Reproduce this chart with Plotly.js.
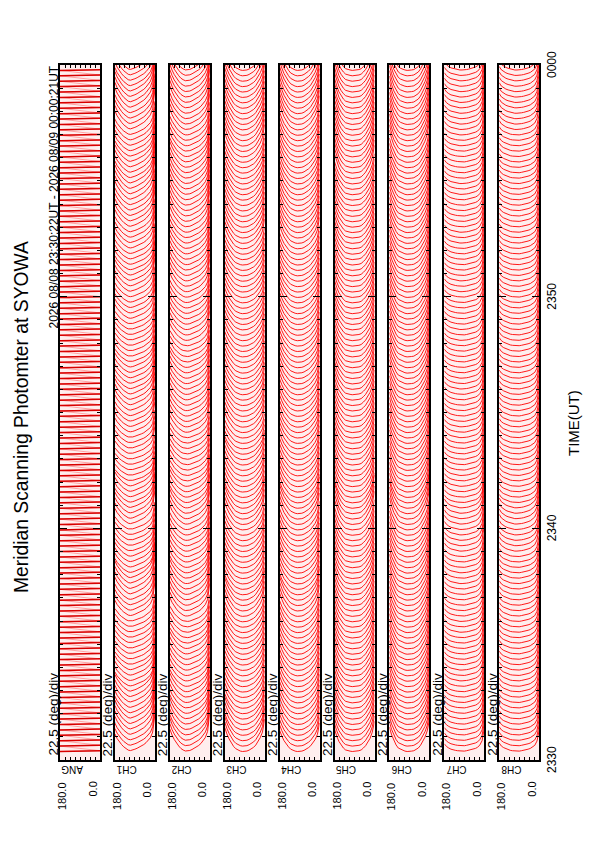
<!DOCTYPE html>
<html>
<head>
<meta charset="utf-8">
<script src="https://cdn.plot.ly/plotly-3.0.1.min.js"></script>
<style>
html,body{margin:0;padding:0;background:#fff;overflow:hidden;}
#chart{width:595px;height:842px;}
</style>
</head>
<body>
<div id="chart"></div>
<script>
// ---------------- DATA ----------------
// scan start times, seconds after 23:30:00 UT
const scanSec = [22,36,50,64,78,92,106,120,134,148,162,176,190,204,218,232,246,260,274,288,
302,316,330,344,358,372,386,400,414,428,442,456,470,484,498,512,526,540,554,568,
582,596,610,624,638,652,666,680,694,708,722,736,750,764,778,792,806,820,834,848,
862,876,890,904,918,932,946,960,974,988,1002,1016,1030,1044,1058,1072,1086,1100,1114,1128,
1142,1156,1170,1184,1198,1212,1226,1240,1254,1268,1282,1296,1310,1324,1338,1352,1366,1380,1394,1408,
1422,1436,1450,1464,1478,1492,1506,1520,1534,1548,1562,1576,1590,1604,1618,1632,1646,1660,1674,1688,
1702,1716,1730,1744,1758,1772,1786];

// scan angles (deg)
const angles = [0,10,20,30,40,50,60,70,80,90,100,110,120,130,140,150,160,170,180];

// ANG panel: mirror angle at start / end of each sweep and time into the scan (s)
const angSweep = [180, 0];
const angSweepSec = [0, 2];

// mean scan profiles (counts above scan minimum) for each channel, at the angles above
const profCH1 = [80,42,30,24,19,15,12,9,7,5,3,2,3,6,10,15,21,28,38];
const profCH2 = [78,40,28,21,16,12,9,6,4,2,1,1,3,6,11,17,24,33,45];
const profCH3 = [70,42,30,21,14,9,5,3,1,0,0,1,3,6,11,18,27,38,52];
const profCH4 = [74,44,31,22,15,10,6,3,1,0,0,1,3,6,12,19,28,40,55];
const profCH5 = [78,50,34,23,15,9,4,2,1,0,0,1,2,4,9,16,26,40,58];
const profCH6 = [82,53,37,25,16,9,5,2,1,0,0,1,3,5,9,17,28,43,63];
const profCH7 = [60,28,17,11,8,6,4,3,2,1,1,1,2,3,4,6,9,13,20];
const profCH8 = [55,27,16,11,8,6,4,3,2,1,1,1,2,3,5,7,10,14,22];

// relative profile strength for each minute 23:30 ... 23:59
const ampCH1 = [1.2,1.3,1.2,1.0,0.9,0.9,1.1,1.2,1.0,0.9,1.1,1.0,0.8,0.9,1.0,1.1,1.0,0.9,0.9,1.0,1.1,1.0,1.1,1.2,1.3,1.2,1.1,1.3,1.4,1.3];
const ampCH2 = [1.3,1.2,1.1,1.0,1.0,0.9,1.1,1.1,1.0,1.0,1.1,1.0,0.9,0.9,1.0,1.0,1.0,0.9,1.0,1.0,1.1,1.1,1.1,1.2,1.2,1.2,1.1,1.2,1.3,1.3];
const ampCH3 = [1.2,1.1,1.0,1.0,1.0,1.0,1.1,1.0,1.0,1.0,1.1,1.0,1.0,0.9,1.0,1.0,1.0,1.0,1.0,1.0,1.0,1.0,1.1,1.1,1.1,1.1,1.2,1.2,1.2,1.2];
const ampCH4 = [1.0,1.0,1.0,1.0,1.0,1.0,1.1,1.0,1.0,1.0,1.1,1.0,1.0,1.0,1.0,1.0,1.0,1.0,1.0,1.0,1.0,1.0,1.1,1.1,1.1,1.1,1.1,1.2,1.2,1.2];
const ampCH5 = [1.0,1.0,1.0,1.0,1.0,1.0,1.0,1.0,1.0,1.0,1.1,1.0,1.0,1.0,1.0,1.0,1.0,1.0,1.0,1.0,1.0,1.0,1.0,1.0,1.0,1.1,1.1,1.1,1.1,1.1];
const ampCH6 = [1.0,1.0,1.0,1.0,1.0,1.0,1.0,1.0,1.0,1.0,1.1,1.0,1.0,1.0,1.0,1.0,1.0,1.0,1.0,1.0,1.0,1.0,1.0,1.0,1.0,1.0,1.1,1.1,1.1,1.1];
const ampCH7 = [1.0,1.0,1.0,1.0,1.0,1.0,1.0,1.0,1.0,1.1,1.2,1.0,1.0,1.0,1.0,1.0,1.0,1.0,1.0,1.0,1.0,1.0,1.0,1.0,1.0,1.0,1.0,1.1,1.1,1.1];
const ampCH8 = [1.0,1.0,1.0,1.0,1.0,1.0,1.0,1.0,1.0,1.1,1.2,1.0,1.0,1.0,1.0,1.0,1.0,1.0,1.0,1.0,1.0,1.0,1.0,1.0,1.0,1.0,1.0,1.1,1.1,1.1];

const panelNames = ['ANG','CH1','CH2','CH3','CH4','CH5','CH6','CH7','CH8'];
const timeTickVals = [0,10,20,30];
const timeTickText = ['2330','2340','2350','0000'];
const angleEndLabels = ['180.0','0.0'];
const divLabel = '22.5 (deg)/div';
const titleText = 'Meridian Scanning Photomter at SYOWA';
const periodText = '2026 08/08 23:30:22UT - 2026 08/09 00:00:21UT';
const timeAxisTitle = 'TIME(UT)';

// ---------------- BUILD ----------------
const W = 595, H = 842;
const FONT = 'Liberation Sans, Arial, Helvetica, sans-serif';
const COUNT_TO_SEC = 1.0;          // display gain: 1 count -> 1 s shift along time axis
const panelLeft = i => 60 + 54.9 * i;
const PW = 40, PTOP = 65, PBOT = 760;
const X = px => px / W, Y = py => 1 - py / H;

const profs = [null, profCH1, profCH2, profCH3, profCH4, profCH5, profCH6, profCH7, profCH8];
const amps  = [null, ampCH1, ampCH2, ampCH3, ampCH4, ampCH5, ampCH6, ampCH7, ampCH8];

const traces = [];
// ANG: continuous mirror trace (sweeps joined by return paths) + the sweeps themselves
{
  const x = [], y = [], xs = [], ys = [];
  scanSec.forEach(s => {
    for (let k = 0; k < angSweep.length; k++) {
      x.push(angSweep[k]);  y.push((s + angSweepSec[k]) / 60);
      xs.push(angSweep[k]); ys.push((s + angSweepSec[k]) / 60);
    }
    xs.push(null); ys.push(null);
  });
  traces.push({type:'scatter', mode:'lines', x, y, xaxis:'x', yaxis:'y',
    line:{color:'#ff7070', width:0.6}, hoverinfo:'skip', showlegend:false});
  traces.push({type:'scatter', mode:'lines', x:xs, y:ys, xaxis:'x', yaxis:'y',
    line:{color:'#d80000', width:1.5}, hoverinfo:'skip', showlegend:false});
}
for (let c = 1; c <= 8; c++) {
  const x = [], y = [];
  scanSec.forEach(s => {
    const m = Math.min(29, Math.floor(s / 60));
    const a = amps[c][m];
    angles.forEach((ang, j) => {
      x.push(ang);
      y.push((s + profs[c][j] * a * COUNT_TO_SEC) / 60);
    });
    x.push(null); y.push(null);
  });
  traces.push({type:'scatter', mode:'lines', x, y, xaxis:'x'+(c+1), yaxis:'y'+(c+1),
    line:{color:'#ff0000', width:0.9}, hoverinfo:'skip', showlegend:false, connectgaps:false});
}

const layout = {
  width: W, height: H,
  margin:{l:0,r:0,t:0,b:0},
  paper_bgcolor:'#ffffff',
  plot_bgcolor:'#ffeeee',
  font:{family:FONT, color:'#000', size:11},
  showlegend:false,
  annotations:[]
};

for (let i = 0; i < 9; i++) {
  const xa = 'xaxis' + (i ? i + 1 : ''), ya = 'yaxis' + (i ? i + 1 : '');
  const xs = 'x' + (i ? i + 1 : ''), ys = 'y' + (i ? i + 1 : '');
  const L = panelLeft(i);
  layout[xa] = {
    domain:[X(L), X(L + PW)], anchor: ys,
    range:[180, 0], tickmode:'linear', tick0:0, dtick:22.5,
    ticks:'inside', ticklen:3, tickwidth:1, tickcolor:'#000',
    showline:true, linewidth:2, linecolor:'#000', mirror:'ticks',
    showgrid:false, zeroline:false, showticklabels:false, fixedrange:true
  };
  layout[ya] = {
    domain:[Y(PBOT), Y(PTOP)], anchor: xs,
    range:[0, 30], tickmode:'array', tickvals: timeTickVals,
    ticks:'inside', ticklen:7, tickwidth:1.5, tickcolor:'#000',
    minor:{tickmode:'linear', tick0:0, dtick:1, ticks:'inside', ticklen:3, tickwidth:1, tickcolor:'#000'},
    showline:true, linewidth:2, linecolor:'#000', mirror:'ticks',
    showgrid:false, zeroline:false, fixedrange:true, showticklabels:false
  };
  // 22.5 (deg)/div
  layout.annotations.push({xref:'paper', yref:'paper', x:X(L - 7), y:Y(757),
    xanchor:'center', yanchor:'bottom', text:divLabel, textangle:-90, showarrow:false,
    font:{family:FONT, size:13.5, color:'#000'}, borderpad:0});
  // 180.0 / 0.0
  layout.annotations.push({xref:'paper', yref:'paper', x:X(L + 2), y:Y(781),
    xanchor:'center', yanchor:'top', text:angleEndLabels[0], textangle:-90, showarrow:false,
    font:{family:FONT, size:11, color:'#000'}, borderpad:0});
  layout.annotations.push({xref:'paper', yref:'paper', x:X(L + 32), y:Y(781),
    xanchor:'center', yanchor:'top', text:angleEndLabels[1], textangle:-90, showarrow:false,
    font:{family:FONT, size:11, color:'#000'}, borderpad:0});
  // channel name (upside down)
  layout.annotations.push({xref:'paper', yref:'paper', x:X(L + 12), y:Y(770),
    xanchor:'center', yanchor:'middle', text:panelNames[i], textangle:180, showarrow:false,
    font:{family:FONT, size:10, color:'#000'}, borderpad:0});
}

// time labels positioned on the last panel's time axis
timeTickVals.forEach((v, k) => {
  layout.annotations.push({xref:'paper', yref:'y9', x:X(552), y:v,
    xanchor:'center', yanchor:'middle', text:timeTickText[k], textangle:-90, showarrow:false,
    font:{family:FONT, size:12, color:'#000'}, borderpad:0});
});

layout.annotations.push({xref:'paper', yref:'paper', x:X(21), y:Y(417),
  xanchor:'center', yanchor:'middle', text:titleText, textangle:-90, showarrow:false,
  font:{family:FONT, size:19.3, color:'#000'}, borderpad:0});
layout.annotations.push({xref:'paper', yref:'paper', x:X(53), y:Y(65),
  xanchor:'center', yanchor:'top', text:periodText, textangle:-90, showarrow:false,
  font:{family:FONT, size:12, color:'#000'}, borderpad:0});
layout.annotations.push({xref:'paper', yref:'paper', x:X(573), y:Y(423),
  xanchor:'center', yanchor:'middle', text:timeAxisTitle, textangle:-90, showarrow:false,
  font:{family:FONT, size:15, color:'#000'}, borderpad:0});

Plotly.newPlot('chart', traces, layout, {staticPlot:true, displayModeBar:false});
</script>
</body>
</html>
